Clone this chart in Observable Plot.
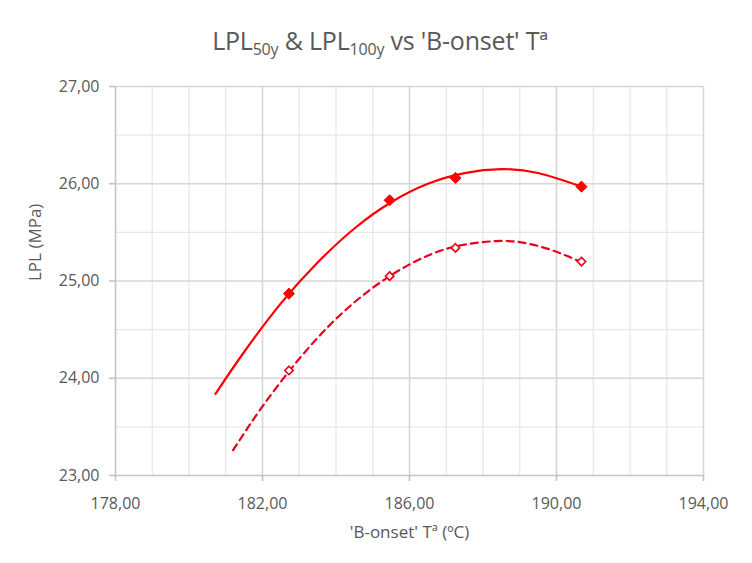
<!DOCTYPE html>
<html>
<head>
<meta charset="utf-8">
<script src="https://cdn.jsdelivr.net/npm/d3@7"></script>
<script src="https://cdn.jsdelivr.net/npm/@observablehq/plot@0.6"></script>
<style>
  body { margin: 0; background: #fff; font-family: "Open Sans", sans-serif; }
  #title { height: 70px; line-height: 80px; text-align: center; font-size: 25px; color: #595959; padding-left: 8px; box-sizing: border-box; letter-spacing: -0.2px; }
  #title sub { font-size: 16px; vertical-align: -5px; line-height: 0; }
</style>
</head>
<body>
<div id="title">LPL<sub>50y</sub> &amp; LPL<sub>100y</sub> vs 'B-onset' Tª</div>
<div id="chart"></div>
<script>
// Measured points
const temps = [182.72, 185.46, 187.25, 190.68];
const lpl50 = [24.87, 25.83, 26.06, 25.97];
const lpl100 = [24.08, 25.05, 25.34, 25.20];

// Trendlines
const trend50X = [180.72, 181.5, 182.5, 183.5, 184.5, 185.5, 186.5, 187.5, 188.5, 189.5, 190.68];
const trend50Y = [23.84, 24.27, 24.77, 25.19, 25.54, 25.81, 26.00, 26.11, 26.15, 26.11, 25.97];
const trend100X = [181.2, 182, 183, 184, 185, 186, 187, 188, 189, 190, 190.68];
const trend100Y = [23.26, 23.71, 24.20, 24.61, 24.93, 25.17, 25.33, 25.40, 25.40, 25.30, 25.19];

// Axis ticks
const xTicks = [178, 182, 186, 190, 194];
const yTicks = [23, 24, 25, 26, 27];
const xMinor = [179, 180, 181, 183, 184, 185, 187, 188, 189, 191, 192, 193];
const yMinor = [23.5, 24.5, 25.5, 26.5];

const pts50 = temps.map((t, i) => ({t, v: lpl50[i]}));
const pts100 = temps.map((t, i) => ({t, v: lpl100[i]}));
const tr50 = trend50X.map((t, i) => ({t, v: trend50Y[i]}));
const tr100 = trend100X.map((t, i) => ({t, v: trend100Y[i]}));

const fmt = d => d.toFixed(2).replace(".", ",");

const plot = Plot.plot({
  width: 752,
  height: 493,
  marginLeft: 115,
  marginRight: 49,
  marginTop: 16,
  marginBottom: 88,
  style: {fontFamily: "Open Sans, sans-serif", color: "#595959", background: "#fff"},
  x: {domain: [178, 194]},
  y: {domain: [23, 27]},
  marks: [
    Plot.ruleX(xMinor, {stroke: "#e8e8e8", strokeWidth: 1.3}),
    Plot.ruleY(yMinor, {stroke: "#e8e8e8", strokeWidth: 1.3}),
    Plot.ruleX(xTicks.slice(1), {stroke: "#d6d6d6", strokeWidth: 1.6}),
    Plot.ruleY(yTicks.slice(1), {stroke: "#d6d6d6", strokeWidth: 1.6}),
    Plot.ruleX([178], {stroke: "#c4c4c4", strokeWidth: 1.6}),
    Plot.ruleY([23], {stroke: "#c4c4c4", strokeWidth: 1.6}),
    Plot.axisX({ticks: xTicks, tickFormat: fmt, tickSize: 6, tickPadding: 16, fontSize: 16, stroke: "#c4c4c4", strokeWidth: 1.6, label: null}),
    Plot.axisY({ticks: yTicks, tickFormat: fmt, tickSize: 6, tickPadding: 10, fontSize: 16, stroke: "#c4c4c4", strokeWidth: 1.6, label: null}),
    Plot.text(["'B-onset' Tª (ºC)"], {frameAnchor: "bottom", dy: 62, fontSize: 17, fill: "#595959"}),
    Plot.text(["LPL (MPa)"], {frameAnchor: "left", dx: -80, rotate: -90, fontSize: 17, fill: "#595959"}),
    Plot.line(tr100, {x: "t", y: "v", curve: "natural", stroke: "#e8001c", strokeWidth: 2.2, strokeDasharray: "7,5"}),
    Plot.line(tr50, {x: "t", y: "v", curve: "natural", stroke: "#ff0000", strokeWidth: 2.2}),
    Plot.dot(pts100, {x: "t", y: "v", symbol: "diamond2", r: 3.8, fill: "#fff", stroke: "#e8001c", strokeWidth: 1.6}),
    Plot.dot(pts50, {x: "t", y: "v", symbol: "diamond2", r: 5, fill: "#ff0000", stroke: "#ff0000", strokeWidth: 1})
  ]
});
document.getElementById("chart").appendChild(plot);
</script>
</body>
</html>
